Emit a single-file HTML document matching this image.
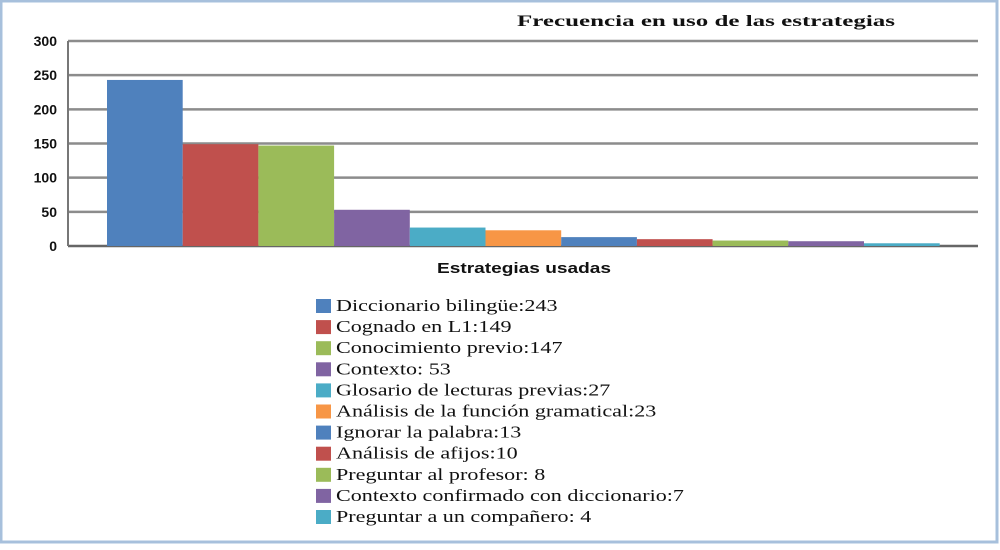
<!DOCTYPE html>
<html><head><meta charset="utf-8"><style>
body{margin:0;width:1000px;height:545px;overflow:hidden;background:#fff}
svg text{font-family:"Liberation Sans",sans-serif}
</style></head><body>
<svg id="c" width="1000" height="545">
<rect x="1" y="1" width="996" height="541" fill="#fff" stroke="#a7c0dc" stroke-width="3"/>
<text id="title" x="517" y="26" font-weight="bold" font-size="16" fill="#111" style="font-family:'Liberation Serif',serif">Frecuencia en uso de las estrategias</text>
<g id="grid"></g><g id="bars"></g><g id="yl"></g>
<text id="xt" x="437" y="273" font-weight="bold" font-size="15" fill="#111">Estrategias usadas</text>
<g id="legend"></g>
</svg>
<script>
const categories=["Diccionario bilingüe:243","Cognado en L1:149","Conocimiento previo:147","Contexto: 53","Glosario de lecturas previas:27","Análisis de la función gramatical:23","Ignorar la palabra:13","Análisis de afijos:10","Preguntar al profesor: 8","Contexto confirmado con diccionario:7","Preguntar a un compañero: 4"];
const values=[243,149,147,53,27,23,13,10,8,7,4];
const yTicks=[0,50,100,150,200,250,300];
const colors=["#4f81bd","#c0504d","#9bbb59","#8064a2","#4bacc6","#f79646","#4f81bd","#c0504d","#9bbb59","#8064a2","#4bacc6"];
const NS="http://www.w3.org/2000/svg";
const x0=68,x1=978,yb=246,yt=41,bx=107,bw=75.7;
const y=v=>yb-(v/300)*(yb-yt);
function mk(t,a,p){const e=document.createElementNS(NS,t);for(const k in a)e.setAttribute(k,a[k]);p.appendChild(e);return e;}
function stretch(el,f){const w=el.getComputedTextLength();el.setAttribute('textLength',w*f);el.setAttribute('lengthAdjust','spacingAndGlyphs');}
const g=document.getElementById('grid');
yTicks.forEach(v=>{const l=mk('line',{x1:x0,x2:x1,y1:y(v),y2:y(v),stroke:v===0?'#666':'#8c8c8c','stroke-width':2.5},g);


const t=mk('text',{x:57,y:y(v)+5,'text-anchor':'end','font-weight':'bold','font-size':14,fill:'#111'},document.getElementById('yl'));t.textContent=v;

});
const ax=mk('line',{x1:x0,x2:x0,y1:yt,y2:yb,stroke:'#777','stroke-width':2},g);


const b=document.getElementById('bars');
values.forEach((v,i)=>{const r=mk('rect',{x:bx+i*bw,y:y(v),width:bw,height:yb-y(v),fill:colors[i]},b);

});
const L=document.getElementById('legend');
categories.forEach((c,i)=>{const yy=306+i*21.1;
const s=mk('rect',{x:316,y:yy-7,width:15,height:14,fill:colors[i]},L);


const t=mk('text',{x:336,y:yy+5,'font-size':17,fill:'#111',style:"font-family:'Liberation Serif',serif"},L);t.textContent=c;


stretch(t,1.3);});
const ti=document.getElementById('title');ti.setAttribute('textLength',378);ti.setAttribute('lengthAdjust','spacingAndGlyphs');
const xt=document.getElementById('xt');xt.setAttribute('textLength',174);xt.setAttribute('lengthAdjust','spacingAndGlyphs');
</script>
</body></html>
